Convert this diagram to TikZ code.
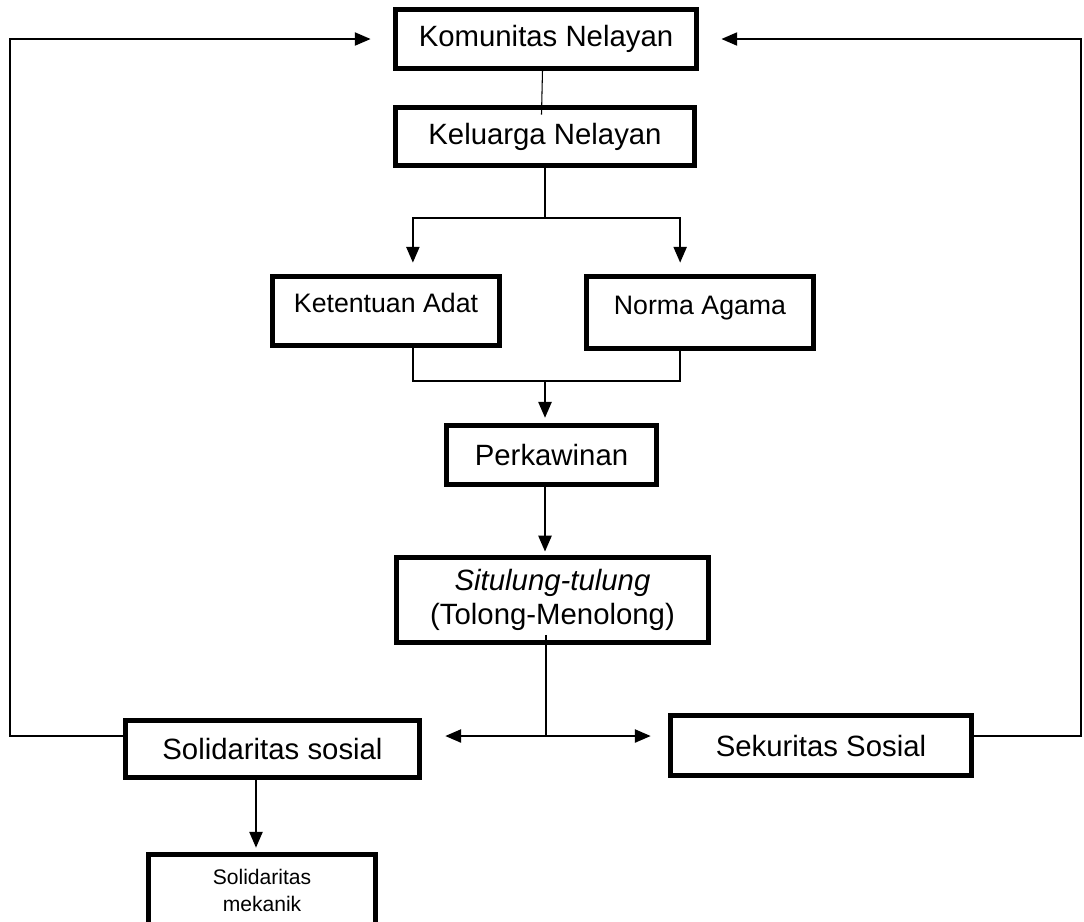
\documentclass[tikz,border=0pt]{standalone}
\usepackage{fontspec}
\setmainfont{Liberation Sans}
\usepackage{tikz}
\usetikzlibrary{positioning, arrows.meta}
\tikzset{
    block/.style={
        draw, line width = 2.8pt,
        inner sep = 0pt,
        align = center,
        font = \fontsize{16.7}{19.8}\selectfont
    },
    smallblock/.style={
        block,
        font = \fontsize{15.2}{18}\selectfont,
        text height = 11pt, text depth = 9pt
    },
    line/.style = {-{Triangle[length=9pt, width=7.5pt]}, line width = 1pt}
}

\begin{document}
\begin{tikzpicture}[x=0.02cm, y=-0.02cm]

    \useasboundingbox (0,0) rectangle (1084,921);

    % Top blocks
    \node[block, minimum width = 6.02cm, minimum height = 1.18cm] (komunitas) at (546,39) {Komunitas Nelayan};
    \node[block, minimum width = 5.98cm, minimum height = 1.16cm] (keluarga) at (545,136.5) {Keluarga Nelayan};

    % Adat and agama
    \node[smallblock, minimum width = 4.54cm, minimum height = 1.38cm] (adat) at (386,311) {Ketentuan Adat};
    \node[smallblock, minimum width = 4.54cm, minimum height = 1.44cm] (norma) at (700,312.5) {Norma Agama};

    % Middle blocks
    \node[block, minimum width = 4.2cm, minimum height = 1.18cm] (perkawinan) at (551.5,455) {Perkawinan};
    \node[block, minimum width = 6.24cm, minimum height = 1.7cm] (situlung) at (552.5,600) {\textit{Situlung-tulung}\\(Tolong-Menolong)};

    % Bottom blocks
    \node[block, minimum width = 5.88cm, minimum height = 1.14cm] (solsosial) at (272.5,749) {Solidaritas sosial};
    \node[block, minimum width = 6.02cm, minimum height = 1.2cm] (sekuritas) at (821,745.5) {Sekuritas Sosial};
    \node[block, minimum width = 4.54cm, minimum height = 1.44cm,
        font = \fontsize{12}{15.3}\selectfont] (mekanik) at (262,890.5) {Solidaritas\\mekanik};

    % Split points
    \coordinate (fork) at (545,218);
    \coordinate (join) at (545,381);
    \coordinate (split) at (546,736);
    \coordinate (lcorner) at (10,39);
    \coordinate (rcorner) at (1081,39);

    % Lines
    \draw[line width = 0.6pt] ([xshift=-2pt]komunitas.south) -- ([xshift=-2pt, yshift=-5.4pt]keluarga.north);
    \draw[line width = 0.9pt] (keluarga.south) -- (fork);
    \draw[line, shorten >= 6.5pt] (fork) -| ([xshift=15.3pt]adat.north);
    \draw[line, shorten >= 6.5pt] (fork) -| ([xshift=-11.3pt]norma.north);
    \draw[line width = 0.9pt] ([xshift=15.3pt]adat.south) |- (join) -| ([xshift=-11.3pt]norma.south);
    \draw[line, shorten >= 3pt] (join) -- (join |- perkawinan.north);
    \draw[line, shorten >= 2pt] (join |- perkawinan.south) -- (join |- situlung.north);
    \draw[line width = 0.9pt] ([yshift=5.7pt]situlung.south -| split) -- (split);
    \draw[line, shorten >= 13.3pt] (split) -- (solsosial.east |- split);
    \draw[line, shorten >= 9.9pt] (split) -- (sekuritas.west |- split);
    \draw[line, shorten >= 12.8pt] (solsosial.west |- split) -| (lcorner) -- (komunitas.west);
    \draw[line, shorten >= 12.8pt] (sekuritas.east |- split) -| (rcorner) -- (komunitas.east);
    \draw[line, shorten >= 2.5pt] ([xshift=-9.4pt]solsosial.south) -- ([xshift=-9.4pt]solsosial.south |- mekanik.north);

\end{tikzpicture}
\end{document}
